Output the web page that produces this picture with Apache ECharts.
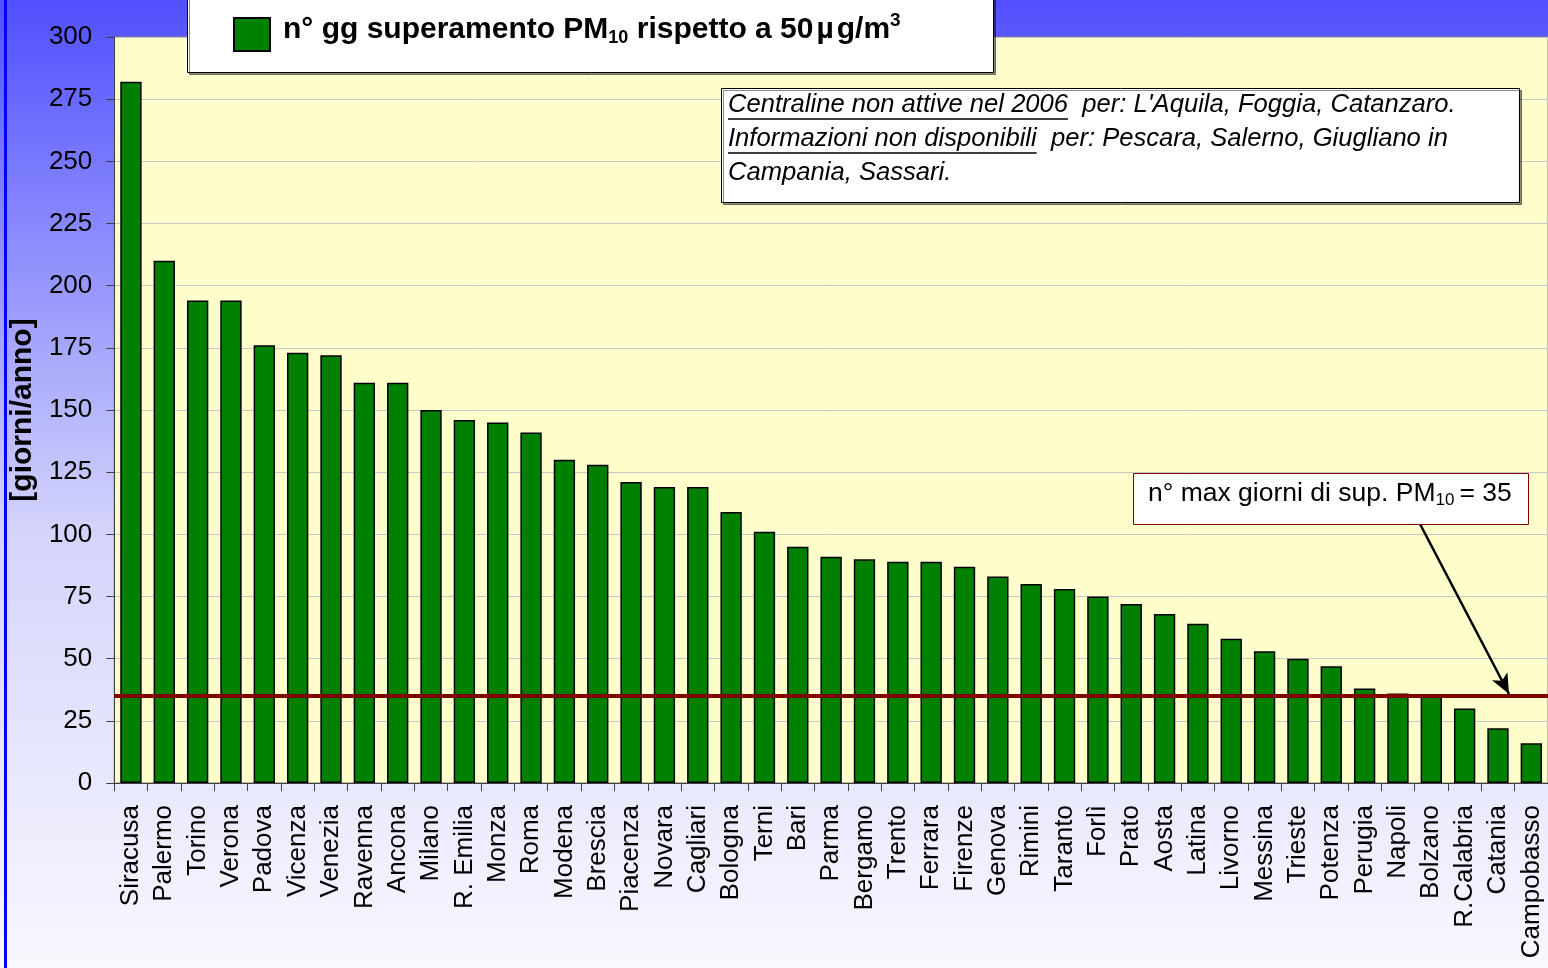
<!DOCTYPE html>
<html>
<head>
<meta charset="utf-8">
<script src="https://cdn.jsdelivr.net/npm/echarts@6/dist/echarts.min.js"></script>
<style>
  html, body { margin: 0; padding: 0; }
  #chart { width: 1548px; height: 968px; }
</style>
</head>
<body>
<div id="chart"></div>
<script>
// città (ordinate per n° giorni di superamento)
var cities = ["Siracusa", "Palermo", "Torino", "Verona", "Padova", "Vicenza", "Venezia", "Ravenna", "Ancona", "Milano",
  "R. Emilia", "Monza", "Roma", "Modena", "Brescia", "Piacenza", "Novara", "Cagliari", "Bologna", "Terni",
  "Bari", "Parma", "Bergamo", "Trento", "Ferrara", "Firenze", "Genova", "Rimini", "Taranto", "Forlì",
  "Prato", "Aosta", "Latina", "Livorno", "Messina", "Trieste", "Potenza", "Perugia", "Napoli", "Bolzano",
  "R.Calabria", "Catania", "Campobasso"];
var days = [282, 210, 194, 194, 176, 173, 172, 161, 161, 150,
  146, 145, 141, 130, 128, 121, 119, 119, 109, 101,
  95, 91, 90, 89, 89, 87, 83, 80, 78, 75,
  72, 68, 64, 58, 53, 50, 47, 38, 36, 35,
  30, 22, 16];
var limitDays = 35;
var yTicks = { min: 0, max: 300, step: 25 };

var FONT = "Liberation Sans, Arial, sans-serif";

// larghezza testo per le sottolineature
function textWidth(txt, font) {
  var ctx = document.createElement("canvas").getContext("2d");
  ctx.font = font;
  return ctx.measureText(txt).width;
}
var noteFont = "italic 25.6px " + FONT;
var u1 = textWidth("Centraline non attive nel 2006", noteFont);
var u2 = textWidth("Informazioni non disponibili", noteFont);

var myChart = echarts.init(document.getElementById("chart"));

var option = {
  animation: false,
  backgroundColor: new echarts.graphic.LinearGradient(0, 0, 0, 1, [
    { offset: 0, color: "#5050ff" },
    { offset: 0.55, color: "#d4d4fb" },
    { offset: 1, color: "#f8f8ff" }
  ]),
  grid: {
    left: 114,
    top: 37,
    width: 1440,
    bottom: 185,
    show: true,
    backgroundColor: "#ffffcc",
    borderColor: "#808080",
    borderWidth: 1
  },
  xAxis: {
    type: "category",
    data: cities,
    axisLine: { show: true, lineStyle: { color: "#404040", width: 1 } },
    axisTick: { show: true, length: 8, lineStyle: { color: "#404040" } },
    axisLabel: {
      rotate: 90,
      interval: 0,
      margin: 22,
      color: "#000",
      fontSize: 26,
      fontFamily: FONT
    }
  },
  yAxis: {
    type: "value",
    min: yTicks.min,
    max: yTicks.max,
    interval: yTicks.step,
    name: "[giorni/anno]",
    nameLocation: "middle",
    nameRotate: 90,
    nameGap: 69,
    nameTextStyle: { color: "#000", fontSize: 30, fontWeight: "bold", fontFamily: FONT },
    axisLine: { show: true, lineStyle: { color: "#404040", width: 1 } },
    axisTick: { show: true, length: 8, lineStyle: { color: "#404040" } },
    axisLabel: { color: "#000", fontSize: 26, margin: 22, fontFamily: FONT },
    splitLine: { show: true, lineStyle: { color: "#c8c8c8", width: 1 } }
  },
  series: [
    {
      type: "bar",
      data: days,
      barCategoryGap: "36%",
      itemStyle: { color: "#008000", borderColor: "#000", borderWidth: 1.5 },
      markLine: {
        silent: true,
        symbol: ["none", "none"],
        label: { show: false },
        data: [
          { yAxis: limitDays, lineStyle: { color: "#800000", width: 4, type: "solid" } },
          [
            { x: 1420, y: 524, symbol: "none", lineStyle: { color: "#000", width: 2.5, type: "solid" } },
            { x: 1509, y: 694, symbol: "arrow", symbolSize: [13, 20] }
          ]
        ]
      }
    }
  ],
  graphic: [
    // bordo blu esterno
    { type: "rect", left: 4, top: -10, shape: { width: 3, height: 1000 }, style: { fill: "#0000ff" }, z: 100 },
    // riquadro legenda
    {
      type: "rect", left: 187, top: -3, z: 100,
      shape: { width: 806, height: 75 },
      style: { fill: "#fff", stroke: "#000", lineWidth: 1, shadowColor: "rgba(0,0,0,0.45)", shadowOffsetX: 2, shadowOffsetY: 2, shadowBlur: 0 }
    },
    {
      type: "rect", left: 233, top: 17, z: 101,
      shape: { width: 36, height: 33 },
      style: { fill: "#008000", stroke: "#000", lineWidth: 2 }
    },
    {
      type: "text", left: 283, top: 11, z: 101,
      style: {
        text: "{b|n° gg superamento PM}{sub|10}{b| rispetto a 50}{mu|µ}{b|g/m}{sup|3}",
        rich: {
          b: { fontSize: 30, fontWeight: "bold", fontFamily: FONT, fill: "#000", lineHeight: 38 },
          mu: { fontSize: 30, fontWeight: "bold", fontFamily: FONT, fill: "#000", lineHeight: 38, padding: [0, 3, 0, 3] },
          sub: { fontSize: 18, fontWeight: "bold", fontFamily: FONT, fill: "#000", padding: [17, 0, 0, 0] },
          sup: { fontSize: 19, fontWeight: "bold", fontFamily: FONT, fill: "#000", padding: [0, 0, 19, 0] }
        }
      }
    },
    // note
    {
      type: "rect", left: 721, top: 88, z: 100,
      shape: { width: 798, height: 114 },
      style: { fill: "#fff", stroke: "#000", lineWidth: 1, shadowColor: "rgba(0,0,0,0.45)", shadowOffsetX: 2, shadowOffsetY: 2, shadowBlur: 0 }
    },
    {
      type: "text", left: 728, top: 92, z: 101,
      style: { text: "Centraline non attive nel 2006  per: L'Aquila, Foggia, Catanzaro.", font: noteFont, fill: "#000" }
    },
    {
      type: "text", left: 728, top: 126, z: 101,
      style: { text: "Informazioni non disponibili  per: Pescara, Salerno, Giugliano in", font: noteFont, fill: "#000" }
    },
    {
      type: "text", left: 728, top: 160, z: 101,
      style: { text: "Campania, Sassari.", font: noteFont, fill: "#000" }
    },
    { type: "line", z: 101, shape: { x1: 728, y1: 119, x2: 728 + u1, y2: 119 }, style: { stroke: "#000", lineWidth: 1.5 } },
    { type: "line", z: 101, shape: { x1: 728, y1: 153, x2: 728 + u2, y2: 153 }, style: { stroke: "#000", lineWidth: 1.5 } },
    // riquadro limite
    {
      type: "rect", left: 1133, top: 473, z: 100,
      shape: { width: 395, height: 51 },
      style: { fill: "#fff", stroke: "#800000", lineWidth: 1 }
    },
    {
      type: "text", left: 1148, top: 480, z: 101,
      style: {
        text: "{t|n° max giorni di sup. PM}{sub|10}{t|= 35}",
        rich: {
          t: { fontSize: 26.5, fontFamily: FONT, fill: "#000", lineHeight: 32 },
          sub: { fontSize: 17, fontFamily: FONT, fill: "#000", padding: [14, 5, 0, 0] }
        }
      }
    }
  ]
};
myChart.setOption(option);
</script>
</body>
</html>
